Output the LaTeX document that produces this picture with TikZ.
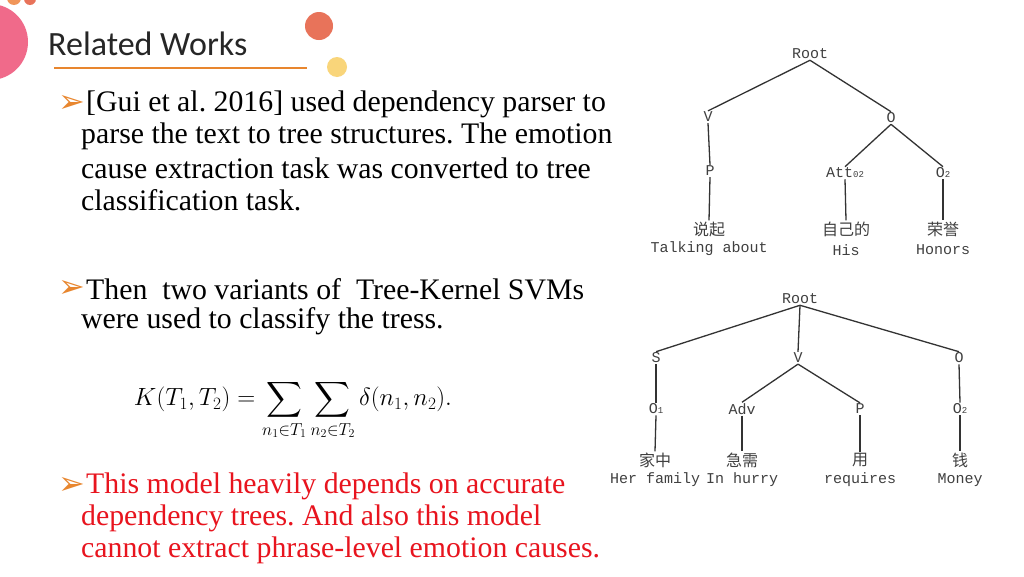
\documentclass[tikz,border=0pt]{standalone}
\usepackage{fontspec}
\usepackage{amsmath}
\setmainfont{Liberation Serif}
\newfontfamily\cjk{Noto Sans CJK SC}
\newfontfamily\monof{Liberation Mono}
\newfontfamily\titlef{Carlito}
\newfontfamily\symf{DejaVu Sans}
\definecolor{bulc}{HTML}{E8862E}
\definecolor{redt}{HTML}{E8141E}
\frenchspacing
\begin{document}
\begin{tikzpicture}[x=1pt,y=-1pt,
  body/.style={anchor=west,inner sep=0pt,font=\fontsize{29.8}{30}\selectfont},
  bul/.style={anchor=west,inner sep=0pt,font=\symf\fontsize{32}{32}\selectfont,text=bulc},
  tl/.style={inner sep=1pt,font=\monof\fontsize{15}{16}\selectfont,text=black!75},
  cj/.style={inner sep=1pt,font=\cjk\fontsize{16}{17}\selectfont,text=black!75},
  edge/.style={draw=black!80,line width=1.3pt}]
\useasboundingbox (0,0) rectangle (1024,576);
\fill[white] (0,0) rectangle (1024,576);
% decor
\fill[color={rgb,255:red,240;green,106;blue,138}] (-10,42) circle (38);
\fill[color={rgb,255:red,240;green,150;blue,90}] (14,-2) circle (7);
\fill[color={rgb,255:red,232;green,115;blue,90}] (30,-1) circle (6);
\fill[color={rgb,255:red,232;green,115;blue,90}] (319,26) circle (14);
\fill[color={rgb,255:red,249;green,213;blue,122}] (337,67) circle (10);
\node[anchor=west,inner sep=0pt,font=\titlef\fontsize{34}{36}\selectfont,text=black!85] (title) at (48,44) {Related Works};
\draw[bulc,line width=1.5pt] (54,68) -- (307,68);
% bullets
\node[bul] (b1) at (58,104) {➢};
\node[body] (l1) at (86,104) {[Gui et al. 2016] used dependency parser to};
\node[body] (l2) at (81,136) {parse the text to tree structures. The emotion};
\node[body] (l3) at (81,168) {cause extraction task was converted to tree};
\node[body] (l4) at (81,200) {classification task.};
\node[bul] (b2) at (58,289) {➢};
\node[body] (l5) at (86,289) {Then\ \ two variants of\ \ Tree-Kernel SVMs};
\node[body] (l6) at (81,321) {were used to classify the tress.};
\node[inner sep=0pt,font=\fontsize{23.7}{26}\selectfont] (eq) at (293,410) {$K(T_1,T_2)=\displaystyle\sum_{n_1\in T_1}\sum_{n_2\in T_2}\delta(n_1,n_2).$};
\node[bul] (b3) at (58,486) {➢};
\node[body,text=redt] (l7) at (86,486) {This model heavily depends on accurate};
\node[body,text=redt] (l8) at (81,518) {dependency trees. And also this model};
\node[body,text=redt] (l9) at (81,550) {cannot extract phrase-level emotion causes.};
% tree 1
\node[tl] (r1) at (810,54) {Root};
\node[tl] (v1) at (708,117) {V};
\node[tl] (o1) at (891,118) {O};
\node[tl] (p1) at (710,171) {P};
\node[tl] (a1) at (845,173) {Att{\fontsize{9}{9}\selectfont 02}};
\node[tl] (q1) at (943,173) {O{\fontsize{9}{9}\selectfont 2}};
\node[cj] (w1) at (709,229) {说起};
\node[tl] (e1) at (709,249) {Talking about};
\node[cj] (w2) at (846,229) {自己的};
\node[tl] (e2) at (846,250) {His};
\node[cj] (w3) at (943,229) {荣誉};
\node[tl] (e3) at (943,250) {Honors};
\draw[edge] (r1.south) -- (v1.north);
\draw[edge] (r1.south) -- (o1.north);
\draw[edge] (v1.south) -- (p1.north);
\draw[edge] (o1.south) -- (a1.north);
\draw[edge] (o1.south) -- (q1.north);
\draw[edge] (p1.south) -- (w1.north);
\draw[edge] (a1.south) -- (w2.north);
\draw[edge] (q1.south) -- (w3.north);
% tree 2
\node[tl] (r2) at (800,299) {Root};
\node[tl] (s2) at (656,358) {S};
\node[tl] (v2) at (798,358) {V};
\node[tl] (o2) at (959,358) {O};
\node[tl] (n1) at (656,409) {O{\fontsize{9}{9}\selectfont 1}};
\node[tl] (ad) at (742,409) {Adv};
\node[tl] (p2) at (860,409) {P};
\node[tl] (n2) at (960,409) {O{\fontsize{9}{9}\selectfont 2}};
\node[cj] (x1) at (655,460) {家中};
\node[tl] (f1) at (655,480) {Her family};
\node[cj] (x2) at (742,460) {急需};
\node[tl] (f2) at (742,480) {In hurry};
\node[cj] (x3) at (860,460) {用};
\node[tl] (f3) at (860,480) {requires};
\node[cj] (x4) at (960,460) {钱};
\node[tl] (f4) at (960,480) {Money};
\draw[edge] (r2.south) -- (s2.north);
\draw[edge] (r2.south) -- (v2.north);
\draw[edge] (r2.south) -- (o2.north);
\draw[edge] (s2.south) -- (n1.north);
\draw[edge] (v2.south) -- (ad.north);
\draw[edge] (v2.south) -- (p2.north);
\draw[edge] (o2.south) -- (n2.north);
\draw[edge] (n1.south) -- (x1.north);
\draw[edge] (ad.south) -- (x2.north);
\draw[edge] (p2.south) -- (x3.north);
\draw[edge] (n2.south) -- (x4.north);
\end{tikzpicture}
\end{document}
